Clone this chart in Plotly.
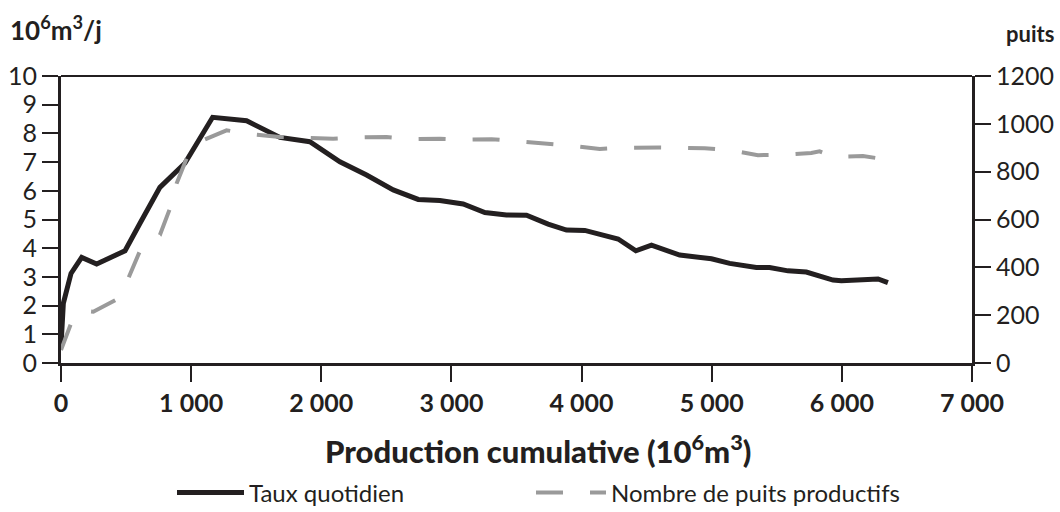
import plotly.graph_objects as go

# Data
prod_x = [0, 18, 77, 159, 274, 492, 607, 760, 952, 1165, 1426, 1682, 1912, 2143, 2348,
          2553, 2745, 2911, 3090, 3257, 3423, 3577, 3743, 3884, 4025, 4166, 4281, 4417,
          4537, 4754, 4908, 4998, 5138, 5240, 5343, 5445, 5586, 5727, 5829, 5932, 5996,
          6137, 6278, 6354]
taux = [0.6, 2.08, 3.12, 3.68, 3.45, 3.91, 4.87, 6.12, 6.96, 8.56, 8.44, 7.86, 7.71, 7.01, 6.55,
        6.03, 5.70, 5.66, 5.54, 5.24, 5.16, 5.15, 4.84, 4.63, 4.62, 4.44, 4.32, 3.91,
        4.11, 3.76, 3.70, 3.63, 3.47, 3.38, 3.33, 3.33, 3.21, 3.17, 3.03, 2.89, 2.87,
        2.92, 2.93, 2.80]

puits_x = [0, 82, 171, 248, 428, 517, 607, 760, 837, 888, 965, 1093, 1272, 1465, 1682, 1874,
           2091, 2284, 2502, 2694, 2911, 3103, 3308, 3512, 3730, 3909, 4140, 4319, 4601,
           4946, 5138, 5355, 5548, 5765, 5829, 5944, 6162, 6290, 6367]
puits = [54, 172, 218, 214, 266, 354, 469, 535, 646, 750, 855, 932, 973, 956, 945, 943,
         938, 943, 945, 936, 938, 934, 936, 927, 918, 909, 895, 900, 901,
         898, 890, 869, 870, 878, 885, 862, 865, 855, 856]

x_tickvals = [0, 1000, 2000, 3000, 4000, 5000, 6000, 7000]
x_ticktext = ["0", "1 000", "2 000", "3 000", "4 000", "5 000", "6 000", "7 000"]
y1_tickvals = list(range(0, 11))
y2_tickvals = [0, 200, 400, 600, 800, 1000, 1200]

INK = "#231f20"
GREY = "#9a9a9a"
FONT = "Lato"

PL, PR, PT, PB = 61, 972, 76, 363
PW, PH = PR - PL, PB - PT

fig = go.Figure()
fig.add_trace(go.Scatter(x=prod_x, y=taux, mode="lines", name="Taux quotidien",
                         line=dict(color=INK, width=5), yaxis="y", legend="legend"))
fig.add_trace(go.Scatter(x=puits_x, y=puits, mode="lines", name="Nombre de puits productifs",
                         line=dict(color=GREY, width=4, dash="27px,27px"), yaxis="y2",
                         legend="legend2"))

leg_common = dict(orientation="h", xanchor="left", yanchor="middle",
                  y=-(493 - PB) / PH, font=dict(size=24, color=INK),
                  bgcolor="rgba(0,0,0,0)")

fig.update_layout(
    width=1060, height=512,
    margin=dict(l=PL, r=1060 - PR, t=PT, b=512 - PB, autoexpand=False),
    paper_bgcolor="white", plot_bgcolor="white",
    font=dict(family=FONT, color=INK, size=24),
    showlegend=True,
    legend=dict(x=(172 - PL) / PW, itemwidth=67, **leg_common),
    legend2=dict(x=(531 - PL) / PW, itemwidth=70, **leg_common),
    xaxis=dict(range=[0, 7000], tickvals=x_tickvals, ticktext=x_ticktext, automargin=False,
               showgrid=False, zeroline=False, showline=True, linecolor=INK, linewidth=3,
               ticks="outside", ticklen=16, tickwidth=1.5, tickcolor=INK,
               tickfont=dict(size=25, family=FONT, weight="bold", color=INK)),
    yaxis=dict(range=[0, 10], tickvals=y1_tickvals, showgrid=False, zeroline=False,
               automargin=False, showline=True, linecolor=INK, linewidth=3,
               ticks="outside", ticklen=16, tickwidth=1.5, tickcolor=INK,
               tickfont=dict(size=25, family=FONT, color=INK)),
    yaxis2=dict(range=[0, 1200], tickvals=y2_tickvals, overlaying="y", side="right",
                automargin=False, showgrid=False, zeroline=False, showline=True,
                linecolor=INK, linewidth=3,
                ticks="outside", ticklen=16, tickwidth=1.5, tickcolor=INK,
                tickfont=dict(size=25, family=FONT, color=INK)),
    shapes=[dict(type="line", xref="paper", yref="paper", x0=0, x1=1, y0=1, y1=1,
                 line=dict(color=INK, width=2))],
    annotations=[
        dict(text="Production cumulative (10<sup>6</sup>m<sup>3</sup>)", xref="paper", yref="paper",
             x=(538 - PL) / PW, y=-(449 - PB) / PH, xanchor="center", yanchor="middle",
             showarrow=False, font=dict(size=31, family=FONT, weight=900, color=INK)),
        dict(text="10<sup>6</sup>m<sup>3</sup>/j", xref="paper", yref="paper",
             x=(8 - PL) / PW, y=1 + (PT - 28) / PH, xanchor="left", yanchor="middle",
             showarrow=False, font=dict(size=26, family=FONT, weight="bold", color=INK)),
        dict(text="puits", xref="paper", yref="paper",
             x=(1056 - PL) / PW, y=1 + (PT - 33) / PH, xanchor="right", yanchor="middle",
             showarrow=False, font=dict(size=22, family=FONT, weight="bold", color=INK)),
    ],
)

fig.write_html("out.html")
